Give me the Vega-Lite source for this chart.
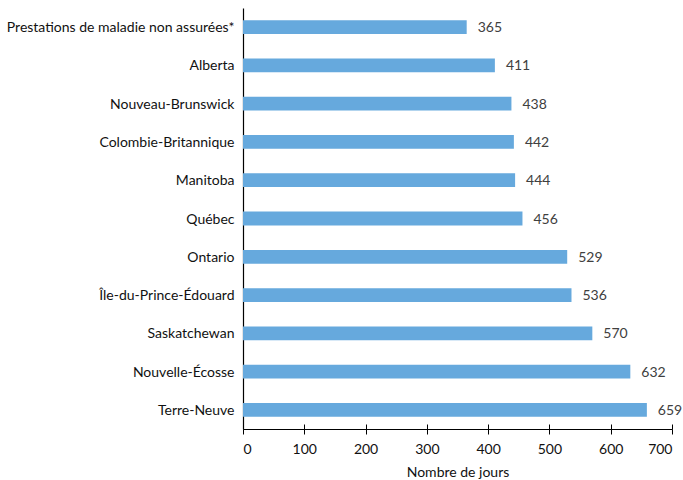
{
  "$schema": "https://vega.github.io/schema/vega-lite/v6.json",
  "autosize": {"type": "none"},
  "width": 429,
  "height": 421,
  "padding": {"left": 243, "top": 8, "right": 11, "bottom": 51},
  "background": "white",
  "config": {
    "view": {"stroke": null},
    "font": "Lato",
    "axis": {"labelFont": "Lato", "titleFont": "Lato", "labelColor": "#111111", "titleColor": "#111111"}
  },
  "data": {
    "values": [
      {"region": "Prestations de maladie non assurées*", "jours": 365},
      {"region": "Alberta", "jours": 411},
      {"region": "Nouveau-Brunswick", "jours": 438},
      {"region": "Colombie-Britannique", "jours": 442},
      {"region": "Manitoba", "jours": 444},
      {"region": "Québec", "jours": 456},
      {"region": "Ontario", "jours": 529},
      {"region": "Île-du-Prince-Édouard", "jours": 536},
      {"region": "Saskatchewan", "jours": 570},
      {"region": "Nouvelle-Écosse", "jours": 632},
      {"region": "Terre-Neuve", "jours": 659}
    ]
  },
  "encoding": {
    "y": {
      "field": "region",
      "type": "nominal",
      "sort": null,
      "scale": {"paddingInner": 0.64, "paddingOuter": 0.32},
      "axis": {
        "title": null,
        "ticks": false,
        "labelPadding": 9,
        "labelOffset": 1,
        "labelFontSize": 14,
        "labelLimit": 300,
        "labelFontWeight": "normal",
        "domainColor": "#000000",
        "domainWidth": 1.2
      }
    }
  },
  "resolve": {"axis": {"x": "independent"}},
  "layer": [
    {
      "mark": {"type": "bar", "color": "#66a9dd"},
      "encoding": {
        "x": {
          "field": "jours",
          "type": "quantitative",
          "scale": {"domain": [0, 700], "nice": false},
          "axis": {
            "orient": "bottom",
            "title": "Nombre de jours",
            "values": [0, 100, 200, 300, 400, 500, 600, 700],
            "grid": false,
            "tickSize": 5,
            "tickColor": "#000000",
            "domainColor": "#000000",
            "domainWidth": 1.2,
            "labelFontSize": 14,
            "labelFontWeight": "normal",
            "titleFontSize": 14,
            "titleFontWeight": "normal",
            "labelPadding": 8,
            "titlePadding": 9
          }
        }
      }
    },
    {
      "mark": {"type": "text", "align": "left", "dx": 11, "dy": 1, "fontSize": 14, "color": "#404040", "font": "Lato"},
      "encoding": {
        "x": {
          "field": "jours",
          "type": "quantitative",
          "axis": {
            "orient": "bottom",
            "offset": -5,
            "title": null,
            "labels": false,
            "domain": false,
            "grid": false,
            "values": [0, 100, 200, 300, 400, 500, 600, 700],
            "tickSize": 5,
            "tickColor": "#000000"
          }
        },
        "text": {"field": "jours", "type": "quantitative"}
      }
    }
  ]
}
